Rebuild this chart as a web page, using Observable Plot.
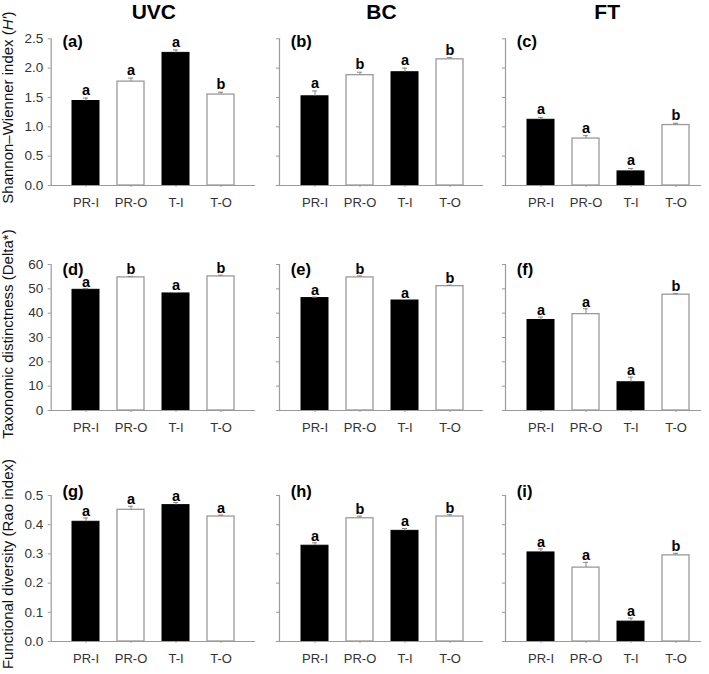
<!DOCTYPE html>
<html><head><meta charset="utf-8">
<script src="https://cdn.jsdelivr.net/npm/d3@7"></script>
<script src="https://cdn.jsdelivr.net/npm/@observablehq/plot@0.6"></script>
<style>
html,body{margin:0;padding:0;background:#fff;}
#chart{position:relative;width:709px;height:674px;overflow:hidden;font-family:"Liberation Sans",Arial,sans-serif;}
#chart svg{position:absolute;}
</style></head><body><div id="chart"></div>
<script>
// ---------- data ----------
const categories = ["PR-I", "PR-O", "T-I", "T-O"];
const columns = ["UVC", "BC", "FT"];
const panelLabels = [["(a)", "(b)", "(c)"], ["(d)", "(e)", "(f)"], ["(g)", "(h)", "(i)"]];
const yTitles = ["Shannon–Wienner index (H′)", "Taxonomic distinctness (Delta*)", "Functional diversity (Rao index)"];
const yMax = [2.5, 60, 0.5];
const yTicks = [[0, 0.5, 1.0, 1.5, 2.0, 2.5], [0, 10, 20, 30, 40, 50, 60], [0, 0.1, 0.2, 0.3, 0.4, 0.5]];
const yTickDigits = [1, 0, 1];

const shannonMean = [[1.44, 1.77, 2.26, 1.55], [1.52, 1.88, 1.93, 2.15], [1.12, 0.80, 0.24, 1.03]];
const shannonErr = [[0.05, 0.06, 0.05, 0.04], [0.09, 0.05, 0.07, 0.03], [0.04, 0.05, 0.05, 0.03]];
const shannonLetters = [["a", "a", "a", "b"], ["a", "b", "a", "b"], ["a", "a", "a", "b"]];

const deltaMean = [[49.6, 54.7, 48.1, 55.1], [46.2, 54.7, 45.2, 51.1], [37.2, 39.6, 11.6, 47.6]];
const deltaErr = [[0.5, 0.4, 0.4, 0.5], [0.4, 0.6, 0.4, 0.4], [1.2, 2.2, 2.1, 0.5]];
const deltaLetters = [["a", "b", "a", "b"], ["a", "b", "a", "b"], ["a", "a", "a", "b"]];

const raoMean = [[0.410, 0.451, 0.467, 0.428], [0.328, 0.422, 0.379, 0.428], [0.305, 0.253, 0.068, 0.295]];
const raoErr = [[0.013, 0.012, 0.009, 0.005], [0.010, 0.007, 0.008, 0.006], [0.012, 0.018, 0.012, 0.007]];
const raoLetters = [["a", "a", "a", "a"], ["a", "b", "a", "b"], ["a", "a", "a", "b"]];

const means = [shannonMean, deltaMean, raoMean];
const errs = [shannonErr, deltaErr, raoErr];
const letters = [shannonLetters, deltaLetters, raoLetters];

// ---------- layout ----------
const colAxisX = [50.7, 279, 505];
const colAxisLen = [203.3, 203, 195];
const rowTopY = [38.3, 264, 494.7];
const rowPlotH = [146.7, 146, 146];
const headerDx = [1, 0.5, 4.2];
const titleDy = [-4.5, -3.5, -4.5];
const panelLabelDy = [8.4, 10.2, 1.0];
const letterGap = [3, 2, 2];
const axisGray = "#9a9a9a";
const textGray = "#333";
const font = "'Liberation Sans', Arial, sans-serif";

const chart = document.getElementById("chart");

for (let r = 0; r < 3; r++) {
  for (let c = 0; c < 3; c++) {
    const mL = c === 0 ? colAxisX[0] : 50;
    const mT = r === 0 ? rowTopY[0] : 20;
    const mB = 30, mR = 8;
    const width = mL + colAxisLen[c] + mR;
    const height = mT + rowPlotH[r] + mB;
    const data = categories.map((cat, i) => ({
      cat,
      inside: cat.endsWith("-I"),
      mean: means[r][c][i],
      top: means[r][c][i] + errs[r][c][i],
      letter: letters[r][c][i]
    }));
    const digits = yTickDigits[r];
    const marks = [
      Plot.barY(data.filter(d => d.inside), {x: "cat", y1: 0, y2: "mean", fill: "#000", stroke: "#000", strokeWidth: 1}),
      Plot.barY(data.filter(d => !d.inside), {x: "cat", y1: 0, y2: "mean", fill: "#fff", stroke: axisGray, strokeWidth: 1.3}),
      Plot.ruleX(data, {x: "cat", y1: "mean", y2: "top", stroke: "#888", strokeWidth: 1}),
      Plot.tickY(data, {x: "cat", y: "top", stroke: "#888", strokeWidth: 1, insetLeft: 11, insetRight: 11}),
      Plot.text(data, {x: "cat", y: "top", text: "letter", lineAnchor: "bottom", dy: -letterGap[r], fontWeight: "bold", fontSize: 14.5, fill: "#000"}),
      Plot.frame({anchor: "left", stroke: axisGray, strokeWidth: 1.2}),
      Plot.frame({anchor: "bottom", stroke: axisGray, strokeWidth: 1.2}),
      Plot.axisY({ticks: yTicks[r], tickSize: 3, tickPadding: 5, stroke: axisGray, fill: textGray, fontSize: 13.5, label: null,
        tickFormat: c === 0 ? (d => d.toFixed(digits)) : (() => "")}),
      Plot.axisX({tickSize: 2, tickPadding: 10, stroke: axisGray, fill: textGray, fontSize: 13, label: null}),
      Plot.text([panelLabels[r][c]], {frameAnchor: "top-left", text: d => d, dx: 11.3, dy: panelLabelDy[r], lineAnchor: "bottom", fontWeight: "bold", fontSize: 16.5, fill: "#000"})
    ];
    if (r === 0) {
      marks.push(Plot.text([columns[c]], {frameAnchor: "top", text: d => d, dx: headerDx[c], dy: 18.5 - mT, lineAnchor: "bottom", textAnchor: "middle", fontWeight: "bold", fontSize: 21, fill: "#000"}));
    }
    if (c === 0) {
      marks.push(Plot.text([yTitles[r]], {frameAnchor: "left", text: d => d, rotate: -90, dx: 12.5 - mL, dy: titleDy[r], lineAnchor: "bottom", textAnchor: "middle", fontSize: 15, fill: "#111"}));
    }
    const svg = Plot.plot({
      width, height,
      marginLeft: mL, marginRight: mR, marginTop: mT, marginBottom: mB,
      style: {background: "transparent", overflow: "visible", fontFamily: font, color: textGray},
      x: {type: "band", domain: categories, range: [mL + 20, mL + 186], paddingInner: 0.39, paddingOuter: 0, align: 0.5},
      y: {domain: [0, yMax[r]], range: [mT + rowPlotH[r], mT]},
      marks
    });
    svg.style.left = (colAxisX[c] - mL) + "px";
    svg.style.top = (rowTopY[r] - mT) + "px";
    chart.appendChild(svg);
    if (c === 0 && r === 0) {
      d3.select(svg).selectAll("text").each(function () {
        if (this.textContent === yTitles[0]) {
          const t = d3.select(this);
          t.text(null);
          t.append("tspan").text("Shannon–Wienner index (");
          t.append("tspan").attr("font-style", "italic").text("H′");
          t.append("tspan").text(")");
        }
      });
    }
  }
}
</script></body></html>
